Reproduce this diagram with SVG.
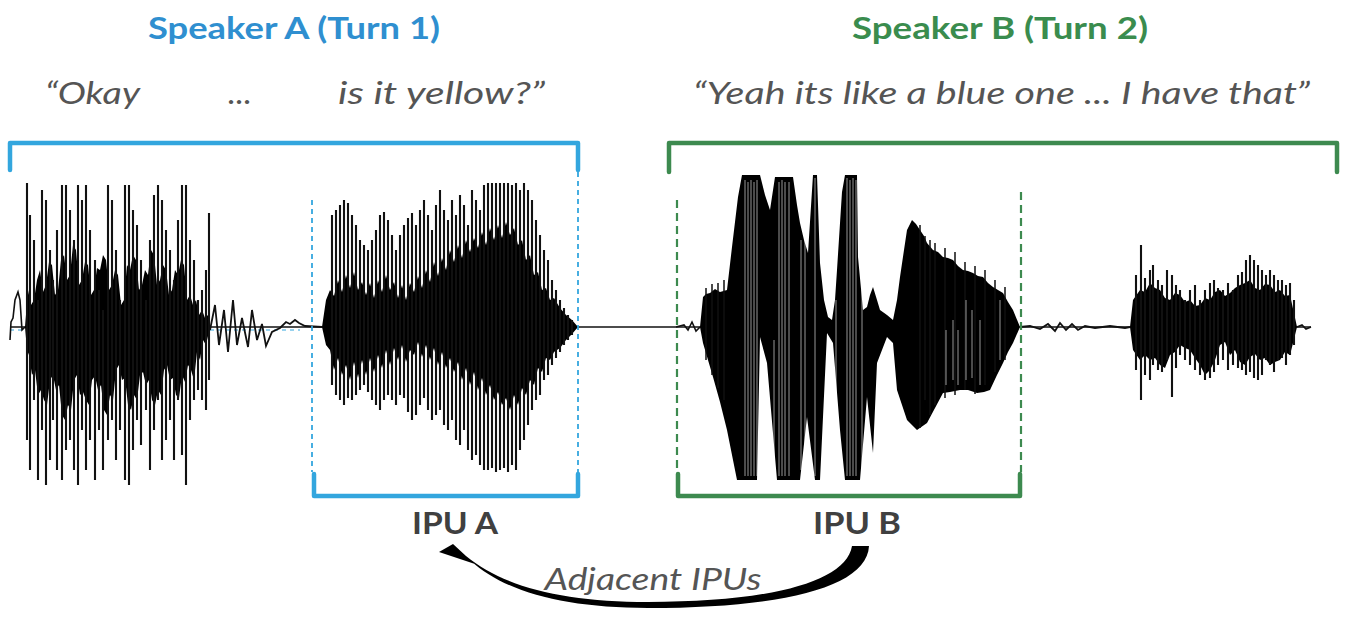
<svg xmlns="http://www.w3.org/2000/svg" width="1346" height="620" viewBox="0 0 1346 620">
<style>
.title{font-family:Lato,"Open Sans",sans-serif;font-weight:bold;font-size:30px}
.quote{font-family:Lato,"Open Sans",sans-serif;font-style:italic;font-size:30px;fill:#555555}
.ipu{font-family:Lato,"Open Sans",sans-serif;font-weight:bold;font-size:30px;fill:#404040}
.blue{stroke:#33A6DE;fill:none;stroke-width:4.5;stroke-linejoin:round;stroke-linecap:round}
.green{stroke:#3D8A4F;fill:none;stroke-width:4.5;stroke-linejoin:round;stroke-linecap:round}
.bdash{stroke:#33A6DE;stroke-width:1.8;stroke-dasharray:5,4;fill:none}
.gdash{stroke:#3D8A4F;stroke-width:2.2;stroke-dasharray:8,5;fill:none}
.spk{stroke:#111;stroke-width:2.1;fill:none}
.spk2{stroke:#111;stroke-width:1.5;fill:none}
.core{fill:#000}
.gap{stroke:#fff;stroke-width:0.8;opacity:0.75}
</style>
<rect width="1346" height="620" fill="#fff"/>

<g id="speakerA">
<text class="title" x="294" y="39" text-anchor="middle" fill="#2F8FD0" textLength="292" lengthAdjust="spacingAndGlyphs">Speaker A (Turn 1)</text>
<text class="quote" x="45" y="104" textLength="95" lengthAdjust="spacingAndGlyphs">“Okay</text>
<text class="quote" x="228" y="104" textLength="24" lengthAdjust="spacingAndGlyphs">...</text>
<text class="quote" x="338" y="104" textLength="207" lengthAdjust="spacingAndGlyphs">is it yellow?”</text>
<path class="blue" d="M10,170V143H578V170"/>
</g>

<g id="speakerB">
<text class="title" x="1000" y="39" text-anchor="middle" fill="#3A8C4E" textLength="296" lengthAdjust="spacingAndGlyphs">Speaker B (Turn 2)</text>
<text class="quote" x="693" y="104" textLength="617" lengthAdjust="spacingAndGlyphs">“Yeah its like a blue one  ...  I have that”</text>
<path class="green" d="M669,172V143H1337V172"/>
</g>

<g id="waveform">
<line x1="10" y1="327" x2="1311" y2="327" stroke="#111" stroke-width="1.6"/>
<line x1="10" y1="330" x2="300" y2="330" stroke="#33A6DE" stroke-width="1.2" stroke-dasharray="4,4"/>
<!-- segment 1 -->
<path d="M10,340 L11,322 L13,318 L15,300 L18,292 L20,300 L22,330 L25,327" stroke="#111" stroke-width="1.6" fill="none"/>
<path class="core" d="M25,327 L28,290 L31,305 L34,300 L37,280 L40,270 L43,292 L46,285 L49,262 L52,265 L55,295 L58,290 L61,260 L64,255 L67,280 L70,275 L73,245 L76,250 L79,285 L82,280 L85,262 L88,265 L91,295 L94,290 L97,268 L100,270 L103,255 L106,260 L109,290 L112,285 L115,270 L118,275 L121,305 L124,300 L127,265 L130,270 L133,255 L136,260 L139,290 L142,285 L145,270 L148,275 L151,250 L154,255 L157,285 L160,280 L163,265 L166,270 L169,295 L172,290 L175,270 L178,275 L181,260 L184,265 L187,300 L190,295 L193,305 L196,300 L199,315 L202,310 L205,318 L208,315 L210,327 L206,345 L203,340 L200,360 L197,352 L194,380 L191,370 L188,365 L185,382 L182,375 L179,398 L176,395 L173,378 L170,380 L167,365 L164,370 L161,395 L158,390 L155,405 L152,400 L149,380 L146,385 L143,372 L140,375 L137,400 L134,395 L131,410 L128,405 L125,378 L122,380 L119,365 L116,370 L113,400 L110,395 L107,415 L104,410 L101,385 L98,390 L95,376 L92,380 L89,405 L86,400 L83,392 L80,395 L77,375 L74,380 L71,410 L68,405 L65,420 L62,415 L59,385 L56,390 L53,375 L50,380 L47,405 L44,400 L41,390 L38,395 L35,370 L32,375 L29,355 L27,350 Z"/>
<path class="spk" d="M27,183V440M30,215V470M34,240V400M38,300V480M42,190V430M46,200V485M50,250V460M53,280V420M57,230V470M62,185V480M66,185V450M70,210V440M74,240V470M78,185V485M82,200V430M86,185V470M90,230V440M95,260V480M99,290V430M103,310V470M108,185V440M112,200V420M116,250V460M120,300V430M125,185V480M129,185V485M133,210V450M137,225V420M141,260V445M146,300V410M150,240V470M154,195V430M158,185V400M162,200V460M166,230V440M170,250V420M174,280V460M178,220V400M182,185V455M186,185V485M190,240V420M194,260V400M198,300V390M202,290V400M206,270V410M209,213V380"/>
<path d="M210,330 L215,305 L219,345 L224,310 L228,352 L233,300 L237,345 L242,318 L248,347 L252,310 L257,340 L262,324 L266,346 L272,332 L280,328 L286,322 L290,324 L295,320 L299,323 L305,326 L322,327" stroke="#111" stroke-width="1.8" fill="none"/>
<!-- segment 2 -->
<path class="core" d="M322,327 L326,300 L330,290 L334,296 L338,280 L342,292 L346,275 L350,288 L354,272 L358,290 L362,282 L366,295 L370,283 L374,298 L378,280 L382,292 L386,275 L390,290 L394,282 L398,298 L402,285 L406,300 L410,283 L414,292 L418,276 L422,288 L426,270 L430,282 L434,262 L438,276 L442,258 L446,270 L450,250 L454,262 L458,245 L462,258 L466,240 L470,252 L474,238 L478,248 L482,232 L486,245 L490,228 L494,240 L498,225 L502,238 L506,222 L510,235 L514,228 L518,245 L522,240 L526,260 L530,255 L534,275 L538,272 L542,290 L546,288 L550,300 L554,298 L560,308 L566,315 L572,320 L578,327 L572,334 L566,340 L560,348 L554,352 L550,360 L546,358 L542,372 L538,368 L534,385 L530,380 L526,395 L522,388 L518,405 L514,395 L510,410 L506,398 L502,405 L498,392 L494,400 L490,385 L486,395 L482,378 L478,390 L474,372 L470,385 L466,368 L462,380 L458,362 L454,372 L450,358 L446,368 L442,352 L438,365 L434,348 L430,360 L426,345 L422,357 L418,342 L414,355 L410,350 L406,362 L402,345 L398,360 L394,348 L390,365 L386,350 L382,368 L378,355 L374,372 L370,358 L366,375 L362,360 L358,378 L354,362 L350,380 L346,365 L342,375 L338,358 L334,370 L330,350 L326,345 Z"/>
<path class="spk" d="M332,215V385M336,210V395M340,205V400M344,200V405M348,203V398M352,215V400M356,225V395M360,240V390M364,245V385M368,250V392M372,240V400M376,230V405M380,215V410M384,212V400M388,220V395M392,235V400M396,250V405M400,235V395M404,225V398M408,218V412M412,213V420M416,225V415M420,210V405M424,200V398M428,215V410M432,230V420M436,205V415M440,190V410M444,210V425M448,220V430M452,200V420M456,215V440M460,195V445M464,205V430M468,225V450M472,190V460M476,200V455M480,210V465M484,185V470M488,183V470M492,183V468M496,183V472M500,183V470M504,183V468M508,183V472M512,185V465M516,183V470M520,190V450M524,183V440M528,190V425M532,200V410M536,220V400M540,235V395M544,250V380M548,260V375M552,280V365M556,290V358M560,300V352M564,308V345M568,315V340M572,320V335"/>
<!-- segment 3 -->
<path d="M676,327 L684,325 L688,330 L692,322 L696,331 L700,327" stroke="#111" stroke-width="1.6" fill="none"/>
<path class="core" d="M700,327 L703,297 L706,294 L710,293 L715,289 L720,292 L727,290 L732,247 L738,197 L742,175 L760,175 L765,195 L770,210 L775,177 L793,177 L797,205 L800,223 L804,240 L808,253 L813,175 L817,175 L820,263 L824,300 L828,317 L832,320 L835,300 L837,270 L842,192 L845,175 L857,175 L858,257 L863,310 L867,307 L870,295 L873,287 L877,300 L880,310 L887,315 L893,320 L897,300 L900,277 L904,250 L907,230 L912,220 L916,224 L920,230 L924,236 L927,243 L933,250 L938,252 L943,257 L948,258 L953,260 L958,266 L963,270 L968,271 L973,273 L978,276 L983,277 L988,283 L993,287 L998,290 L1003,293 L1008,302 L1013,310 L1020,327 L1013,343 L1008,352 L1003,363 L997,375 L990,390 L984,392 L977,393 L968,390 L960,390 L950,392 L943,393 L935,408 L927,423 L917,430 L907,420 L902,405 L897,390 L893,343 L887,337 L877,363 L873,453 L867,397 L860,480 L845,480 L840,430 L836,380 L833,343 L827,333 L820,480 L815,480 L807,417 L800,480 L777,480 L767,363 L760,337 L757,480 L737,480 L727,430 L720,402 L713,377 L708,360 L703,343 Z"/>
<path class="spk2" d="M706,288V360M712,284V375M718,283V388M724,280V400M925,236V400M935,243V405M945,248V398M955,252V395M965,262V390M975,266V394M985,270V385M995,280V372M1005,287V360M920,225V428M930,240V415"/>
<path class="gap" d="M745,180V476M748,182V476M751,180V476M754,182V476M757,180V476M779,182V476M782,180V476M785,182V476M789,182V476M815,178V476M847,178V476M850,180V476M853,178V476M856,180V476M774,340V470M801,240V470M805,230V470M836,300V420M862,290V470M946,330V385M953,320V380M958,330V385M966,300V380M972,310V378M980,320V385M1000,300V360"/>
<path d="M1020,327 L1030,326 L1040,329 L1048,324 L1055,331 L1060,323 L1066,330 L1072,324 L1078,330 L1085,326 L1095,328 L1110,326 L1125,328 L1130,327" stroke="#111" stroke-width="1.8" fill="none"/>
<!-- segment 4 -->
<path class="core" d="M1130,327 L1133,300 L1140,290 L1145,292 L1150,283 L1155,288 L1160,290 L1165,298 L1170,300 L1175,293 L1180,295 L1185,302 L1190,300 L1195,306 L1200,305 L1205,298 L1210,300 L1215,292 L1220,290 L1225,296 L1230,293 L1235,288 L1240,285 L1245,283 L1250,280 L1255,288 L1260,290 L1265,284 L1270,285 L1275,292 L1280,290 L1285,296 L1290,295 L1297,327 L1290,355 L1285,352 L1280,360 L1275,362 L1270,365 L1265,358 L1260,360 L1255,354 L1250,357 L1245,365 L1240,362 L1235,350 L1230,355 L1225,342 L1220,345 L1215,360 L1210,370 L1205,375 L1200,365 L1195,358 L1190,350 L1185,348 L1180,345 L1175,352 L1170,355 L1165,368 L1160,365 L1155,358 L1150,360 L1145,355 L1140,360 L1133,350 Z"/>
<path class="spk" d="M1141,245V400M1136,275V370M1145,278V375M1150,270V380M1153,265V365M1158,280V370M1162,285V372M1167,270V360M1172,275V397M1176,285V368M1180,290V355M1185,300V360M1190,290V365M1195,285V370M1200,300V375M1205,290V380M1210,283V378M1214,280V372M1218,288V365M1223,290V360M1228,283V370M1233,290V365M1238,275V368M1242,272V370M1246,260V375M1250,255V372M1254,260V378M1258,265V380M1262,270V375M1266,275V360M1270,270V365M1274,275V372M1278,280V360M1282,280V358M1286,285V365M1290,283V355M1294,300V345"/>
<path d="M1297,327 L1302,325 L1306,329 L1311,327" stroke="#111" stroke-width="1.6" fill="none"/>
</g>

<g id="ipuA">
<path class="bdash" d="M312,200V472M578,172V472"/>
<path class="blue" d="M314,474V496H578V474"/>
<text class="ipu" x="455" y="534" text-anchor="middle" textLength="86" lengthAdjust="spacingAndGlyphs">IPU A</text>
</g>

<g id="ipuB">
<path class="gdash" d="M677,200V472M1021,192V472"/>
<path class="green" d="M678,474V496H1020V474"/>
<text class="ipu" x="857" y="534" text-anchor="middle" textLength="88" lengthAdjust="spacingAndGlyphs">IPU B</text>
</g>

<g id="connectors">
<path d="M852,546 L869,546 C867,588 780,608 648,608 C565,608 505,592 471,561 L475,564 L439,552 L453,544 L466,556 C505,588 565,602 648,602 C770,602 846,582 852,546 Z" fill="#000"/>
<text class="quote" x="653" y="590" text-anchor="middle" font-size="31" textLength="217" lengthAdjust="spacingAndGlyphs">Adjacent IPUs</text>
</g>
</svg>
